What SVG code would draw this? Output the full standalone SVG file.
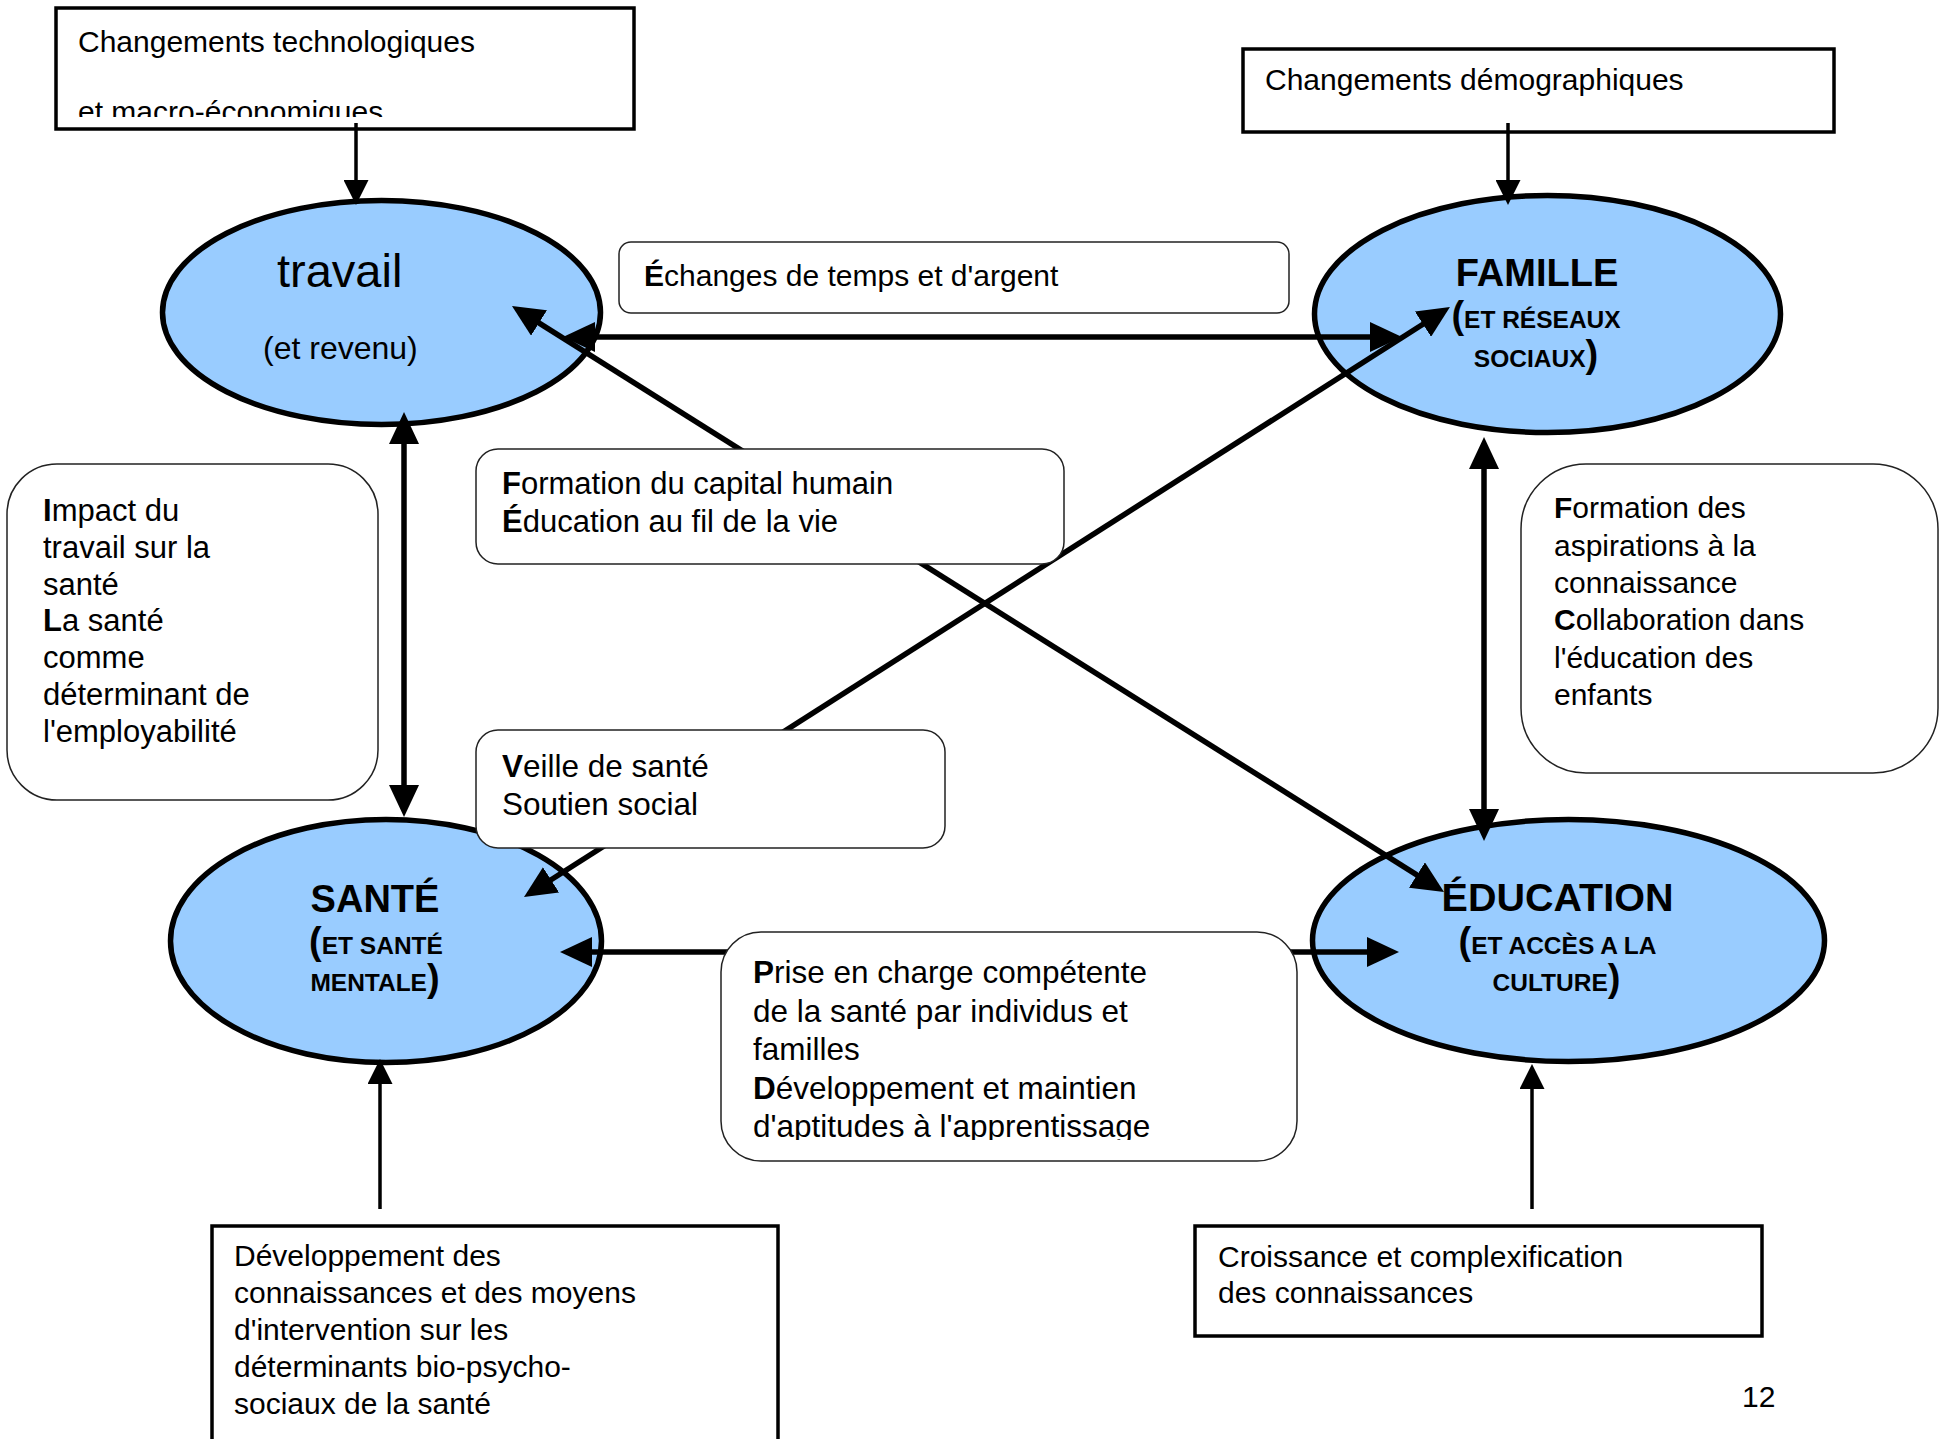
<svg xmlns="http://www.w3.org/2000/svg" width="1948" height="1439" viewBox="0 0 1948 1439">
  <style>
    .t { font-family: "Liberation Sans", Arial, sans-serif; font-size: 30px; fill: #000; }
    .m { font-size: 31px; }
    .l { font-size: 31.5px; }
    .b { font-weight: bold; }
    .frame { fill: #fff; stroke: #000; stroke-width: 3.5; }
    .note { fill: #fff; stroke: #222; stroke-width: 1.5; }
    .pole { fill: #99ccff; stroke: #000; stroke-width: 5.5; }
    .head { font-family: "Liberation Sans", Arial, sans-serif; font-weight: bold; fill: #000; text-anchor: middle; }
    .thick { fill: none; stroke: #000; stroke-width: 5.5; marker-start: url(#arrowThick); marker-end: url(#arrowThick); }
    .thin { fill: none; stroke: #000; stroke-width: 3.5; marker-end: url(#arrowThin); }
  </style>
  <defs>
    <marker id="arrowThick" markerUnits="userSpaceOnUse" markerWidth="32" markerHeight="30" refX="12" refY="15" orient="auto-start-reverse">
      <path d="M0,0 L32,15 L0,30 z" fill="#000"/>
    </marker>
    <marker id="arrowThin" markerUnits="userSpaceOnUse" markerWidth="25" markerHeight="25" refX="10" refY="12.5" orient="auto-start-reverse">
      <path d="M0,0 L25,12.5 L0,25 z" fill="#000"/>
    </marker>
    <clipPath id="clipTech"><rect x="56" y="8" width="578" height="109"/></clipPath>
    <clipPath id="clipPrise"><rect x="721" y="932" width="576" height="208"/></clipPath>
  </defs>

  <rect width="1948" height="1439" fill="#fff"/>

  <!-- outer driver boxes -->
  <g id="box-tech">
    <rect class="frame" x="56" y="8" width="578" height="121"/>
    <g clip-path="url(#clipTech)">
      <text class="t" x="78" y="52">Changements technologiques</text>
      <text class="t" x="78" y="122">et macro-économiques</text>
    </g>
  </g>
  <g id="box-demo">
    <rect class="frame" x="1243" y="49" width="591" height="83"/>
    <text class="t" x="1265" y="90">Changements démographiques</text>
  </g>
  <g id="box-connaissances-sante">
    <rect class="frame" x="212" y="1226" width="566" height="230"/>
    <text class="t" x="234" y="1266">Développement des</text>
    <text class="t" x="234" y="1303">connaissances et des moyens</text>
    <text class="t" x="234" y="1340">d'intervention sur les</text>
    <text class="t" x="234" y="1377">déterminants bio-psycho-</text>
    <text class="t" x="234" y="1414">sociaux de la santé</text>
  </g>
  <g id="box-croissance">
    <rect class="frame" x="1195" y="1226" width="567" height="110"/>
    <text class="t" x="1218" y="1267">Croissance et complexification</text>
    <text class="t" x="1218" y="1303">des connaissances</text>
  </g>

  <!-- the four poles -->
  <g id="node-travail">
    <ellipse class="pole" cx="381.5" cy="312.5" rx="219" ry="112"/>
    <text x="277" y="287" font-family="Liberation Sans, Arial, sans-serif" font-size="47">travail</text>
    <text x="263" y="359" font-family="Liberation Sans, Arial, sans-serif" font-size="32">(et revenu)</text>
  </g>
  <g id="node-famille">
    <ellipse class="pole" cx="1547.5" cy="314" rx="233" ry="118.5"/>
    <text class="head" x="1537" y="286" font-size="38">FAMILLE</text>
    <text class="head" x="1536" y="328" font-size="24.5"><tspan font-size="38">(</tspan>ET RÉSEAUX</text>
    <text class="head" x="1536" y="367" font-size="24.5">SOCIAUX<tspan font-size="38">)</tspan></text>
  </g>
  <g id="node-sante">
    <ellipse class="pole" cx="386" cy="941" rx="215.5" ry="121.5"/>
    <text class="head" x="375" y="912" font-size="38">SANTÉ</text>
    <text class="head" x="376" y="954" font-size="24.5"><tspan font-size="38">(</tspan>ET SANTÉ</text>
    <text class="head" x="375" y="991" font-size="24.5">MENTALE<tspan font-size="38">)</tspan></text>
  </g>
  <g id="node-education">
    <ellipse class="pole" cx="1568.5" cy="940.5" rx="256" ry="121"/>
    <text class="head" x="1557.5" y="911" font-size="39.5">ÉDUCATION</text>
    <text class="head" x="1557.5" y="954" font-size="24.5"><tspan font-size="38">(</tspan>ET ACCÈS A LA</text>
    <text class="head" x="1556.5" y="991" font-size="24.5">CULTURE<tspan font-size="38">)</tspan></text>
  </g>

  <!-- connectors -->
  <g id="connectors">
    <path class="thin" d="M356,123 V190"/>
    <path class="thin" d="M1508,123 V190"/>
    <path class="thick" d="M583,337 H1382"/>
    <path class="thick" d="M404,432 V797"/>
    <path class="thick" d="M1484,457 V821"/>
    <path class="thick" d="M528.9,316.6 L1427.1,881.4"/>
    <path class="thick" d="M540.9,886.3 L1433.1,317.7"/>
    <path class="thick" d="M580,952 H1379"/>
    <path class="thin" d="M380,1209 V1074"/>
    <path class="thin" d="M1532,1209 V1079"/>
  </g>

  <!-- relation labels -->
  <g id="label-echanges">
    <rect class="note" x="619" y="242" width="670" height="71" rx="12"/>
    <text class="t" x="644" y="286" font-size="30.5"><tspan class="b">É</tspan>changes de temps et d'argent</text>
  </g>
  <g id="label-capital">
    <rect class="note" x="476" y="449" width="588" height="115" rx="22"/>
    <text class="t m" x="502" y="494"><tspan class="b">F</tspan>ormation du capital humain</text>
    <text class="t m" x="502" y="532"><tspan class="b">É</tspan>ducation au fil de la vie</text>
  </g>
  <g id="label-veille">
    <rect class="note" x="476" y="730" width="469" height="118" rx="22"/>
    <text class="t l" x="502" y="777"><tspan class="b">V</tspan>eille de santé</text>
    <text class="t l" x="502" y="815">Soutien social</text>
  </g>
  <g id="label-prise">
    <rect class="note" x="721" y="932" width="576" height="229" rx="40"/>
    <g clip-path="url(#clipPrise)">
      <text class="t l" x="753" y="983"><tspan class="b">P</tspan>rise en charge compétente</text>
      <text class="t l" x="753" y="1021.5">de la santé par individus et</text>
      <text class="t l" x="753" y="1060">familles</text>
      <text class="t l" x="753" y="1098.5"><tspan class="b">D</tspan>éveloppement et maintien</text>
      <text class="t l" x="753" y="1137">d'aptitudes à l'apprentissage</text>
    </g>
  </g>
  <g id="label-impact">
    <rect class="note" x="7" y="464" width="371" height="336" rx="50"/>
    <text class="t m" x="43" y="521"><tspan class="b">I</tspan>mpact du</text>
    <text class="t m" x="43" y="558">travail sur la</text>
    <text class="t m" x="43" y="594.5">santé</text>
    <text class="t m" x="43" y="631"><tspan class="b">L</tspan>a santé</text>
    <text class="t m" x="43" y="668">comme</text>
    <text class="t m" x="43" y="705">déterminant de</text>
    <text class="t m" x="43" y="742">l'employabilité</text>
  </g>
  <g id="label-aspirations">
    <rect class="note" x="1521" y="464" width="417" height="309" rx="65"/>
    <text class="t" x="1554" y="518" font-size="30.5"><tspan class="b">F</tspan>ormation des</text>
    <text class="t" x="1554" y="555.5" font-size="30.5">aspirations à la</text>
    <text class="t" x="1554" y="593" font-size="30.5">connaissance</text>
    <text class="t" x="1554" y="630" font-size="30.5"><tspan class="b">C</tspan>ollaboration dans</text>
    <text class="t" x="1554" y="667.5" font-size="30.5">l'éducation des</text>
    <text class="t" x="1554" y="705" font-size="30.5">enfants</text>
  </g>

  <text id="page-number" class="t" x="1742" y="1407">12</text>
</svg>
